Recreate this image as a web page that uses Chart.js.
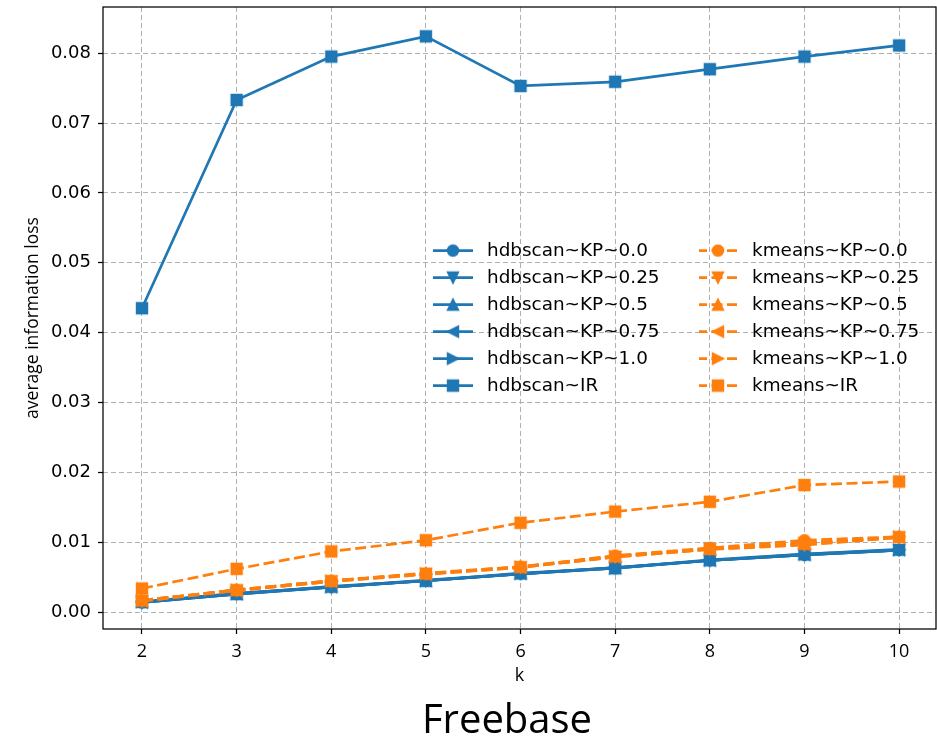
<!DOCTYPE html>
<html>
<head>
<meta charset="utf-8">
<script src="https://cdn.jsdelivr.net/npm/chart.js@4.4.1/dist/chart.umd.min.js"></script>
<style>
html,body{margin:0;padding:0;background:#ffffff;}
#wrap{width:937px;height:739px;position:relative;}
</style>
</head>
<body>
<div id="wrap"><canvas id="c" width="937" height="739"></canvas></div>
<script>
// ---------- data ----------
const kValues = [2, 3, 4, 5, 6, 7, 8, 9, 10];
const yTickValues = [0, 0.01, 0.02, 0.03, 0.04, 0.05, 0.06, 0.07, 0.08];
const yTickLabels = ['0.00', '0.01', '0.02', '0.03', '0.04', '0.05', '0.06', '0.07', '0.08'];
const seriesLabels = [
  'hdbscan~KP~0.0', 'hdbscan~KP~0.25', 'hdbscan~KP~0.5', 'hdbscan~KP~0.75', 'hdbscan~KP~1.0', 'hdbscan~IR',
  'kmeans~KP~0.0', 'kmeans~KP~0.25', 'kmeans~KP~0.5', 'kmeans~KP~0.75', 'kmeans~KP~1.0', 'kmeans~IR'
];
const hdbscanKP00 = [0.0014, 0.0026, 0.0036, 0.0045, 0.0055, 0.0063, 0.0074, 0.0082, 0.0089];
const hdbscanKP025 = [0.0014, 0.0027, 0.0036, 0.0046, 0.0055, 0.0064, 0.0074, 0.0082, 0.0089];
const hdbscanKP05 = [0.0015, 0.0026, 0.0037, 0.0045, 0.0056, 0.0063, 0.0075, 0.0083, 0.0090];
const hdbscanKP075 = [0.0014, 0.0026, 0.0036, 0.0045, 0.0055, 0.0064, 0.0074, 0.0082, 0.0089];
const hdbscanKP10 = [0.0015, 0.0027, 0.0036, 0.0045, 0.0055, 0.0063, 0.0074, 0.0083, 0.0089];
const hdbscanIR = [0.0435, 0.0733, 0.0795, 0.0824, 0.0753, 0.0759, 0.0777, 0.0795, 0.0811];
const kmeansKP00 = [0.0017, 0.0032, 0.0045, 0.0055, 0.0065, 0.0081, 0.0092, 0.0103, 0.0108];
const kmeansKP025 = [0.0016, 0.0031, 0.0044, 0.0055, 0.0064, 0.0079, 0.0090, 0.0096, 0.0107];
const kmeansKP05 = [0.0017, 0.0032, 0.0045, 0.0056, 0.0065, 0.0080, 0.0091, 0.0098, 0.0108];
const kmeansKP075 = [0.0016, 0.0031, 0.0044, 0.0054, 0.0064, 0.0079, 0.0090, 0.0097, 0.0107];
const kmeansKP10 = [0.0017, 0.0032, 0.0045, 0.0055, 0.0065, 0.0080, 0.0091, 0.0099, 0.0108];
const kmeansIR = [0.0034, 0.0062, 0.0087, 0.0103, 0.0128, 0.0144, 0.0158, 0.0182, 0.0187];
const allSeries = [hdbscanKP00, hdbscanKP025, hdbscanKP05, hdbscanKP075, hdbscanKP10, hdbscanIR,
                   kmeansKP00, kmeansKP025, kmeansKP05, kmeansKP075, kmeansKP10, kmeansIR];

// ---------- styles ----------
const BLUE = '#1f77b4';
const ORANGE = '#ff7f0e';
const shapes = ['circle', 'down', 'up', 'left', 'right', 'square'];

function makeMarker(shape, color) {
  const c = document.createElement('canvas');
  c.width = 16; c.height = 16;
  const g = c.getContext('2d');
  const h = 5.4;
  g.translate(8, 8);
  g.fillStyle = color; g.strokeStyle = color; g.lineWidth = 1.6; g.lineJoin = 'miter';
  g.beginPath();
  if (shape === 'circle') { g.arc(0, 0, h, 0, Math.PI * 2); }
  else if (shape === 'square') { g.rect(-h, -h, 2 * h, 2 * h); }
  else if (shape === 'up') { g.moveTo(0, -h); g.lineTo(-h, h); g.lineTo(h, h); g.closePath(); }
  else if (shape === 'down') { g.moveTo(0, h); g.lineTo(-h, -h); g.lineTo(h, -h); g.closePath(); }
  else if (shape === 'left') { g.moveTo(-h, 0); g.lineTo(h, -h); g.lineTo(h, h); g.closePath(); }
  else if (shape === 'right') { g.moveTo(h, 0); g.lineTo(-h, -h); g.lineTo(-h, h); g.closePath(); }
  g.fill(); g.stroke();
  return c;
}

const LINE_DASH = [11, 4.5];
const datasets = allSeries.map((vals, i) => {
  const isK = i >= 6;
  const color = isK ? ORANGE : BLUE;
  const marker = makeMarker(shapes[i % 6], color);
  return {
    label: seriesLabels[i],
    data: kValues.map((k, j) => ({x: k, y: vals[j]})),
    borderColor: color,
    backgroundColor: color,
    borderWidth: 2.7,
    borderDash: isK ? LINE_DASH : [],
    pointStyle: marker,
    pointRadius: 6,
    pointHoverRadius: 6,
    pointBorderWidth: 0,
    tension: 0,
    fill: false,
    order: allSeries.length - i,
    _marker: marker
  };
});

const frame = {
  id: 'frame',
  afterDatasetsDraw(chart) {
    const a = chart.chartArea, ctx = chart.ctx;
    ctx.save();
    ctx.strokeStyle = '#000'; ctx.lineWidth = 1.25; ctx.setLineDash([]);
    ctx.strokeRect(a.left, a.top, a.right - a.left, a.bottom - a.top);
    ctx.restore();
  }
};

const legendAndTitle = {
  id: 'legendAndTitle',
  afterDraw(chart) {
    const ctx = chart.ctx;
    ctx.save();
    const rowY0 = 250.6, rowStep = 27;
    const cols = [
      {lineL: 433, lineR: 473, text: 487},
      {lineL: 699, lineR: 737, text: 752}
    ];
    ctx.font = '18.4px "DejaVu Sans"';
    ctx.textBaseline = 'middle';
    ctx.textAlign = 'left';
    datasets.forEach((ds, i) => {
      const col = cols[i < 6 ? 0 : 1];
      const y = rowY0 + (i % 6) * rowStep;
      ctx.strokeStyle = ds.borderColor;
      ctx.lineWidth = 2.7;
      ctx.setLineDash(ds.borderDash);
      ctx.lineDashOffset = 3;
      ctx.beginPath(); ctx.moveTo(col.lineL, y); ctx.lineTo(col.lineR, y); ctx.stroke();
      const m = ds._marker;
      const cx = (col.lineL + col.lineR) / 2;
      ctx.setLineDash([]);
      ctx.drawImage(m, cx - m.width / 2, y - m.height / 2);
      ctx.fillStyle = '#000';
      ctx.fillText(ds.label, col.text, y + 1);
    });
    ctx.font = '40px "Open Sans"';
    ctx.textAlign = 'center';
    ctx.textBaseline = 'alphabetic';
    ctx.fillStyle = '#000';
    ctx.fillText('Freebase', 507, 733);
    ctx.restore();
  }
};

const gridOpts = {color: '#b0b0b0', lineWidth: 1, tickColor: '#000', tickLength: 5, tickWidth: 1.25};
function zeroPad(s) { s.paddingLeft = 0; s.paddingRight = 0; s.paddingTop = 0; s.paddingBottom = 0; }

new Chart(document.getElementById('c'), {
  type: 'line',
  data: {datasets},
  options: {
    responsive: false,
    animation: false,
    events: [],
    layout: {autoPadding: false, padding: {left: 0, top: 7, right: 1, bottom: 52}},
    plugins: {legend: {display: false}, tooltip: {enabled: false}, title: {display: false}},
    scales: {
      x: {
        type: 'linear', min: 1.588, max: 10.39,
        afterBuildTicks: s => { s.ticks = kValues.map(v => ({value: v})); },
        afterFit: s => { s.height = 58; zeroPad(s); },
        ticks: {font: {family: 'Open Sans', size: 18}, color: '#000', padding: 7, autoSkip: false, maxRotation: 0,
                callback: v => String(v)},
        grid: gridOpts,
        border: {display: false, dash: [5, 3]},
        title: {display: true, text: 'k', color: '#000', font: {family: 'Open Sans', size: 18}, padding: {top: 4, bottom: 0}}
      },
      y: {
        type: 'linear', min: -0.0024, max: 0.0866,
        afterBuildTicks: s => { s.ticks = yTickValues.map(v => ({value: v})); },
        afterFit: s => { s.width = 103; zeroPad(s); },
        ticks: {font: {family: 'DejaVu Sans', size: 18}, color: '#000', padding: 7, autoSkip: false,
                callback: (v, i) => yTickLabels[i]},
        grid: gridOpts,
        border: {display: false, dash: [5, 3]},
        title: {display: true, text: 'average information loss', color: '#000', font: {family: 'Open Sans', size: 17.5}, padding: {top: 23, bottom: 0}}
      }
    }
  },
  plugins: [frame, legendAndTitle]
});
</script>
</body>
</html>
